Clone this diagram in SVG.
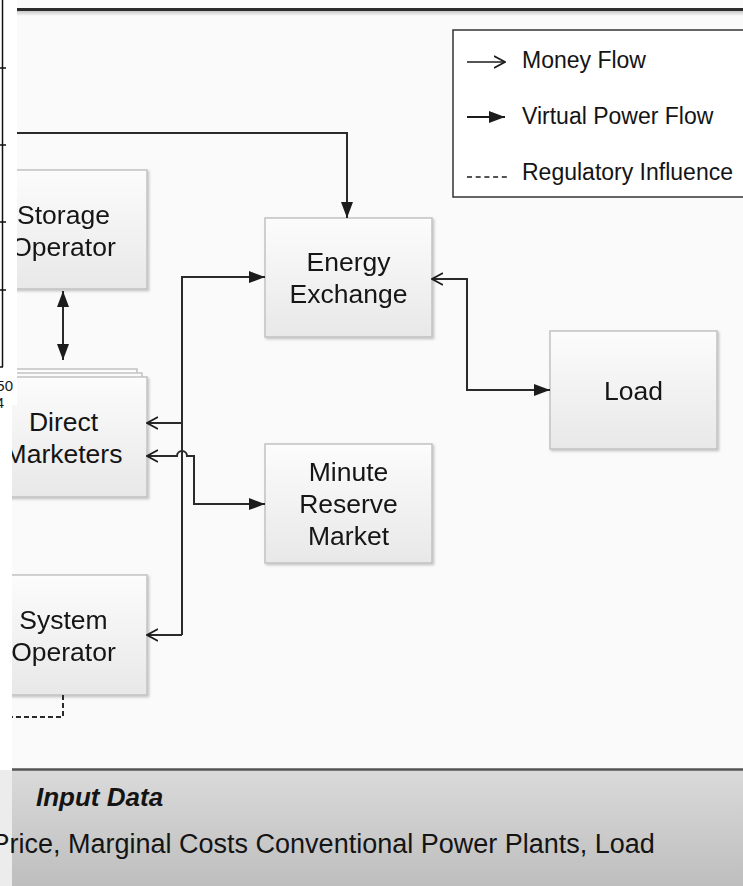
<svg xmlns="http://www.w3.org/2000/svg" width="743" height="886" viewBox="0 0 743 886">
  <defs>
    <linearGradient id="boxFill" x1="0" y1="0" x2="0" y2="1">
      <stop offset="0" stop-color="#fcfcfc"/>
      <stop offset="1" stop-color="#e8e8e8"/>
    </linearGradient>
    <linearGradient id="panelFill" x1="0" y1="0" x2="0" y2="1">
      <stop offset="0" stop-color="#dadada"/>
      <stop offset="1" stop-color="#bebebe"/>
    </linearGradient>
    <linearGradient id="lineShade" x1="0" y1="0" x2="0" y2="1">
      <stop offset="0" stop-color="#c8c8c8"/>
      <stop offset="1" stop-color="#fafafa"/>
    </linearGradient>
    <filter id="shadow" x="-10%" y="-10%" width="125%" height="125%">
      <feDropShadow dx="1.5" dy="1.5" stdDeviation="1" flood-color="#000" flood-opacity="0.22"/>
    </filter>
    <!-- filled head: virtual power flow -->
    <marker id="power" viewBox="0 0 16 12" refX="16" refY="6" markerWidth="16" markerHeight="12" markerUnits="userSpaceOnUse" orient="auto-start-reverse">
      <path d="M0 0 L16 6 L0 12 Z" fill="#1c1c1c"/>
    </marker>
    <!-- open head: money flow -->
    <marker id="money" viewBox="0 0 12 14" refX="11" refY="7" markerWidth="12" markerHeight="14" markerUnits="userSpaceOnUse" orient="auto-start-reverse">
      <path d="M0 1 L11 7 L0 13" fill="none" stroke="#1c1c1c" stroke-width="1.8"/>
    </marker>
  </defs>
  <style>
    .node rect { fill: url(#boxFill); stroke: #c2c2c2; stroke-width: 1.5; }
    .node text { font-family: "Liberation Sans", Arial, sans-serif; font-size: 26.5px; fill: #141414; text-anchor: middle; }
    .conn { fill: none; stroke: #2a2a2a; stroke-width: 2; }
    .dash { fill: none; stroke: #2a2a2a; stroke-width: 2; stroke-dasharray: 5 3; }
    .legend text { font-family: "Liberation Sans", Arial, sans-serif; font-size: 23px; fill: #141414; }
    .panel text { font-family: "Liberation Sans", Arial, sans-serif; fill: #141414; }
  </style>

  <!-- canvas -->
  <rect x="0" y="0" width="743" height="886" fill="#ffffff"/>
  <rect x="12" y="0" width="731" height="886" fill="#fafafa"/>

  <!-- header rule -->
  <rect x="17" y="11" width="726" height="5" fill="url(#lineShade)"/>
  <line x1="17" y1="9.5" x2="743" y2="9.5" stroke="#2b2b2b" stroke-width="3"/>

  <!-- nodes -->
  <g id="storage-operator" class="node" filter="url(#shadow)">
    <rect x="-20" y="170" width="167" height="119"/>
    <text x="63.5" y="224">Storage</text>
    <text x="63.5" y="256">Operator</text>
  </g>

  <g id="direct-marketers" class="node">
    <rect x="-30" y="369" width="167" height="120"/>
    <rect x="-25" y="373" width="167" height="120"/>
    <rect x="-20" y="377" width="167" height="120" filter="url(#shadow)"/>
    <text x="63.5" y="430.5">Direct</text>
    <text x="63.5" y="462.5">Marketers</text>
  </g>

  <g id="system-operator" class="node" filter="url(#shadow)">
    <rect x="-20" y="575" width="167" height="120"/>
    <text x="63.5" y="629">System</text>
    <text x="63.5" y="661">Operator</text>
  </g>

  <g id="energy-exchange" class="node" filter="url(#shadow)">
    <rect x="265" y="218" width="167" height="119"/>
    <text x="348.5" y="271">Energy</text>
    <text x="348.5" y="303">Exchange</text>
  </g>

  <g id="minute-reserve-market" class="node" filter="url(#shadow)">
    <rect x="265" y="444" width="167" height="119"/>
    <text x="348.5" y="481">Minute</text>
    <text x="348.5" y="513">Reserve</text>
    <text x="348.5" y="545">Market</text>
  </g>

  <g id="load" class="node" filter="url(#shadow)">
    <rect x="550" y="331" width="167" height="118"/>
    <text x="633.5" y="399.5">Load</text>
  </g>

  <!-- connectors -->
  <g id="connectors">
    <path class="conn" d="M17 133 L347 133 L347 218" marker-end="url(#power)"/>
    <path class="conn" d="M63 291 L63 360" marker-start="url(#power)" marker-end="url(#power)"/>
    <path class="conn" d="M182 635 L182 277 L265 277" marker-end="url(#power)"/>
    <path class="conn" d="M182 423 L147 423" marker-end="url(#money)"/>
    <path class="conn" d="M182 635 L147 635" marker-end="url(#money)"/>
    <path class="conn" d="M265 504 L194 504 L194 456 L187 456 A5 5 0 0 0 177 456 L147 456" marker-start="url(#power)" marker-end="url(#money)"/>
    <path class="conn" d="M550 390 L467 390 L467 279 L432 279" marker-start="url(#power)" marker-end="url(#money)"/>
    <path class="dash" d="M63 695 L63 717 L12 717"/>
  </g>

  <!-- legend -->
  <g id="legend" class="legend">
    <rect x="453" y="30" width="300" height="167" fill="#ffffff" stroke="#333333" stroke-width="1.5"/>
    <path d="M467 62 L505 62" fill="none" stroke="#1c1c1c" stroke-width="1.6" marker-end="url(#money)"/>
    <text x="522" y="68">Money Flow</text>
    <path d="M467 117 L505 117" fill="none" stroke="#1c1c1c" stroke-width="2" marker-end="url(#power)"/>
    <text x="522" y="124">Virtual Power Flow</text>
    <path d="M467 177 L507 177" fill="none" stroke="#1c1c1c" stroke-width="1.6" stroke-dasharray="5 3.7"/>
    <text x="522" y="180">Regulatory Influence</text>
  </g>

  <!-- input data panel -->
  <g id="input-data" class="panel">
    <rect x="0" y="770" width="12" height="116" fill="#ececec"/>
    <rect x="12" y="770" width="731" height="116" fill="url(#panelFill)"/>
    <line x1="12" y1="769.5" x2="743" y2="769.5" stroke="#555555" stroke-width="2.5"/>
    <text x="36" y="806" font-size="26px" font-weight="bold" font-style="italic">Input Data</text>
    <text x="-8.5" y="853" font-size="27px">Price, Marginal Costs Conventional Power Plants, Load</text>
  </g>

  <!-- left margin strip -->
  <rect x="0" y="0" width="17" height="405" fill="#ffffff"/>
  <rect x="0" y="405" width="12" height="365" fill="#ffffff"/>
  <g id="margin" stroke="#111111" stroke-width="1.5">
    <line x1="2.5" y1="0" x2="2.5" y2="367"/>
    <line x1="0" y1="68" x2="6" y2="68"/>
    <line x1="0" y1="145" x2="6" y2="145"/>
    <line x1="0" y1="222" x2="6" y2="222"/>
    <line x1="0" y1="290" x2="6" y2="290"/>
    <line x1="0" y1="367" x2="3" y2="367"/>
  </g>
  <g font-family="Liberation Sans, Arial, sans-serif" font-size="15px" fill="#1a1a1a" text-anchor="end">
    <text x="13" y="391">50</text>
    <text x="4" y="408">4</text>
  </g>
</svg>
